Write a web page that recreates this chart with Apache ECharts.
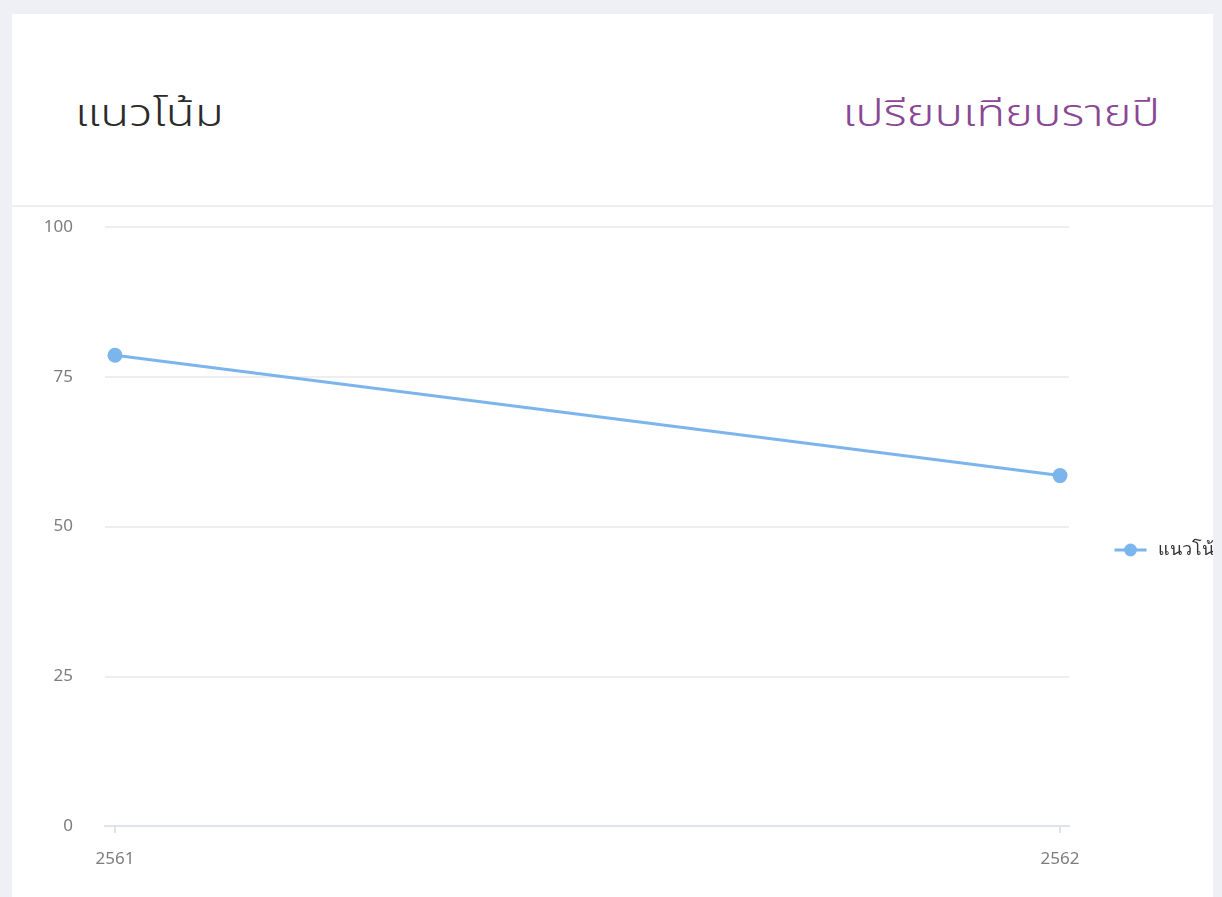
<!DOCTYPE html>
<html>
<head>
<meta charset="utf-8">
<script src="https://cdn.jsdelivr.net/npm/echarts@6/dist/echarts.min.js"></script>
<style>
	html, body { margin: 0; padding: 0; background: #eef0f5; width: 1222px; height: 897px; overflow: hidden; }
	.card { position: absolute; left: 12px; top: 14px; width: 1201px; height: 900px; background: #fff; overflow: hidden; }
	.head { position: absolute; left: 0; top: 0; width: 1201px; height: 191px; border-bottom: 2px solid #eceef3; }
	.title, .sub { position: absolute; top: 72px; font-size: 38px; font-weight: 300; font-family: "Noto Sans Thai", "Noto Sans", sans-serif; }
	.title { left: 63px; color: #2b2b2b; transform: scaleX(1.25); transform-origin: left center; }
	.sub { right: 53px; color: #8a4794; transform: scaleX(1.25); transform-origin: right center; }
	#chart { position: absolute; left: 0; top: 193px; width: 1280px; height: 700px; }
</style>
</head>
<body>
<div class="card">
	<div class="head">
		<div class="title">แนวโน้ม</div>
		<div class="sub">เปรียบเทียบรายปี</div>
	</div>
	<div id="chart"></div>
</div>
<script>
// ข้อมูลกราฟ
const years = ['2561', '2562'];
const trendValues = [78.6, 58.5];
const seriesName = 'แนวโน้ม';
const yTicks = [0, 25, 50, 75, 100];

const myChart = echarts.init(document.getElementById('chart'), null, { renderer: 'canvas' });
const axisColor = '#dde2ee';
const labelColor = '#7d7d7d';
const font = '"Noto Sans", sans-serif';

let option = {
	animation: false,
	color: ['#7cb5ec'],
	legend: {
		orient: 'vertical',
		left: 1096,
		top: 329,
		itemWidth: 32,
		itemHeight: 16,
		lineStyle: { width: 3 },
		textStyle: { color: '#333', fontSize: 18, fontFamily: font, padding: [0, 0, 0, 6] },
		data: [seriesName]
	},
	grid: [
		{ left: 93, top: 20, width: 964, height: 599 }, // เส้นกริดและแกน
		{ left: 103, top: 20, width: 945, height: 599 } // ข้อมูล
	],
	xAxis: [
		{
			gridIndex: 0, type: 'value', min: 0, max: 1,
			axisLine: { show: true, lineStyle: { color: axisColor, width: 2 } },
			axisTick: { show: false }, axisLabel: { show: false }, splitLine: { show: false }
		},
		{
			gridIndex: 1, type: 'category', data: years, boundaryGap: false,
			axisLine: { show: false },
			axisTick: { show: true, length: 7, lineStyle: { color: axisColor, width: 2 } },
			axisLabel: { color: labelColor, fontSize: 17, margin: 25, fontFamily: font },
			splitLine: { show: false }
		}
	],
	yAxis: [
		{
			gridIndex: 0, type: 'value', min: yTicks[0], max: yTicks[yTicks.length - 1], interval: 25,
			axisLine: { show: false }, axisTick: { show: false },
			axisLabel: { color: labelColor, fontSize: 17, margin: 32, fontFamily: font },
			splitLine: { lineStyle: { color: '#eeeeee', width: 2 } }
		},
		{
			gridIndex: 1, type: 'value', min: 0, max: 100, interval: 25,
			axisLine: { show: false }, axisTick: { show: false },
			axisLabel: { show: false }, splitLine: { show: false }
		}
	],
	series: [{
		name: seriesName,
		type: 'line',
		xAxisIndex: 1,
		yAxisIndex: 1,
		data: trendValues,
		symbol: 'circle',
		symbolSize: 15,
		lineStyle: { width: 3 }
	}]
};
myChart.setOption(option);
</script>
</body>
</html>
